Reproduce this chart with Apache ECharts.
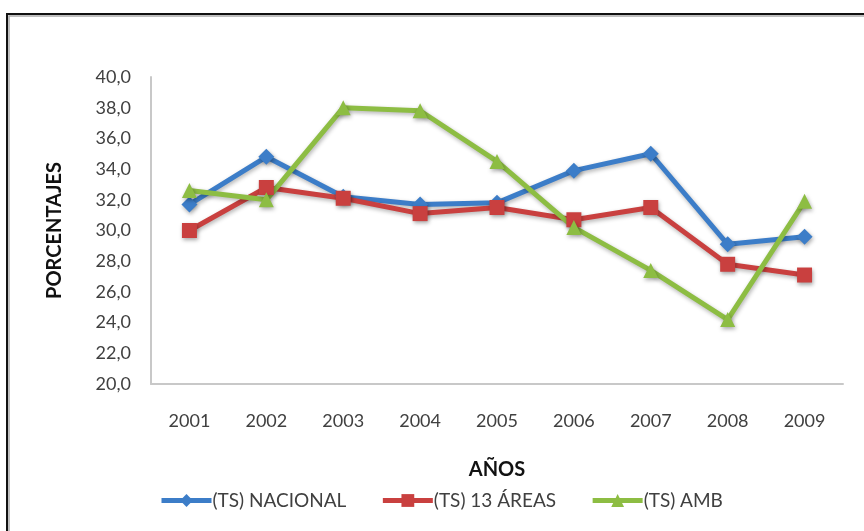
<!DOCTYPE html>
<html>
<head>
<meta charset="utf-8">
<script src="https://cdn.jsdelivr.net/npm/echarts@6/dist/echarts.min.js"></script>
<style>
  html, body { margin: 0; padding: 0; background: #fff; }
  #chart { width: 864px; height: 531px; }
</style>
</head>
<body>
<div id="chart"></div>
<script>
// datos
var years = ['2001', '2002', '2003', '2004', '2005', '2006', '2007', '2008', '2009'];
var nacional = [31.7, 34.8, 32.2, 31.7, 31.8, 33.9, 35.0, 29.1, 29.6];
var areas13 = [30.0, 32.8, 32.1, 31.1, 31.5, 30.7, 31.5, 27.8, 27.1];
var amb = [32.6, 32.0, 38.0, 37.8, 34.5, 30.2, 27.4, 24.2, 31.9];

var font = 'Lato, "Open Sans", sans-serif';

function serie(name, data, color, symbol, size) {
  return {
    name: name,
    type: 'line',
    data: data,
    symbol: symbol,
    symbolSize: size,
    lineStyle: {
      color: color, width: 5,
      shadowColor: 'rgba(0,0,0,0.3)', shadowBlur: 4, shadowOffsetX: 1, shadowOffsetY: 2
    },
    itemStyle: {
      color: color, borderWidth: 0,
      shadowColor: 'rgba(0,0,0,0.35)', shadowBlur: 4, shadowOffsetX: 1, shadowOffsetY: 2
    }
  }
}

var chart = echarts.init(document.getElementById('chart'));
chart.setOption({
  animation: false,
  textStyle: { fontFamily: font },
  graphic: [{
    type: 'rect',
    shape: { x: 7, y: 14, width: 900, height: 600 },
    style: { fill: 'none', stroke: '#111', lineWidth: 2 },
    silent: true
  }, {
    type: 'rect',
    shape: { x: 9, y: 16, width: 900, height: 600 },
    style: { fill: 'none', stroke: '#aaa', lineWidth: 1.5 },
    silent: true
  }],
  grid: { left: 151, right: 21, top: 77, bottom: 147, containLabel: false },
  legend: {
    left: 154,
    top: 486,
    itemWidth: 50,
    itemHeight: 16,
    itemGap: 34,
    lineStyle: { width: 5 },
    textStyle: { fontSize: 19, color: '#404040', fontFamily: font, padding: [0, 0, 0, -4] },
    data: ['(TS) NACIONAL', '(TS) 13 ÁREAS', '(TS) AMB']
  },
  xAxis: {
    type: 'category',
    data: years,
    boundaryGap: true,
    name: 'AÑOS',
    nameLocation: 'middle',
    nameGap: 76,
    nameTextStyle: { fontSize: 20, fontWeight: 'bold', color: '#111', fontFamily: font },
    axisLine: { lineStyle: { color: '#c8c8c8', width: 2 } },
    axisTick: { show: false },
    axisLabel: { fontSize: 18, color: '#404040', margin: 28 },
    splitLine: { show: false }
  },
  yAxis: {
    type: 'value',
    min: 20,
    max: 40,
    interval: 2,
    name: 'PORCENTAJES',
    nameLocation: 'middle',
    nameGap: 86,
    nameTextStyle: { fontSize: 20, fontWeight: 'bold', color: '#111', fontFamily: font },
    axisLine: { show: true, lineStyle: { color: '#c8c8c8', width: 2 } },
    axisTick: { show: false },
    splitLine: { show: false },
    axisLabel: {
      fontSize: 18, color: '#404040', margin: 20,
      formatter: function (v) { return v.toFixed(1).replace('.', ','); }
    }
  },
  series: [
    serie('(TS) NACIONAL', nacional, '#3C7DC8', 'diamond', 16),
    serie('(TS) 13 ÁREAS', areas13, '#C9403F', 'rect', 15),
    serie('(TS) AMB', amb, '#8DBD43', 'triangle', 15)
  ]
});
</script>
</body>
</html>
